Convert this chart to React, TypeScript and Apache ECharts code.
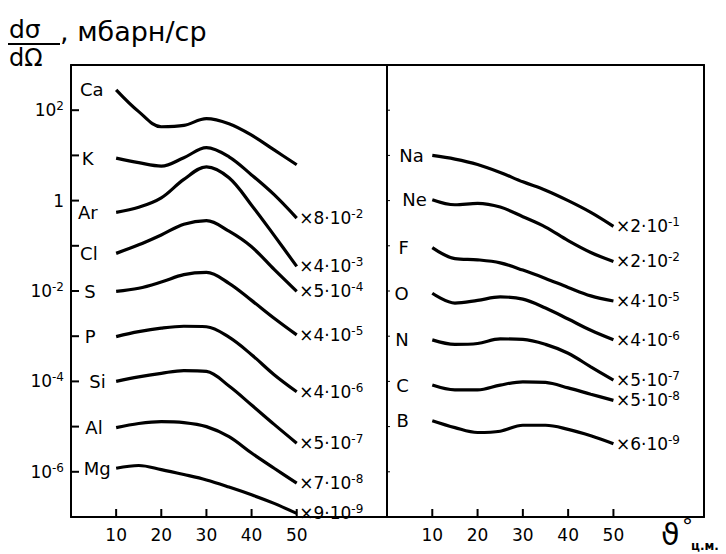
import React, { useEffect, useRef } from "react";
import * as echarts from "echarts";

// scattering angle, degrees (c.m.)
const THETA = [10, 15, 20, 25, 30, 35, 40, 45, 50];

// left panel (plotted values, mb/sr, already multiplied by the factor)
const CA = [282, 93, 43, 46, 65, 50, 28, 13.2, 6.2];
const K = [8.7, 6.9, 5.8, 8.9, 14.8, 9.3, 3.7, 1.35, 0.41];
const AR = [0.55, 0.71, 1.15, 2.95, 5.6, 3.2, 0.79, 0.17, 0.035];
const CL = [0.068, 0.105, 0.174, 0.3, 0.36, 0.21, 0.095, 0.03, 0.0098];
const S = [0.0098, 0.0115, 0.0158, 0.023, 0.0257, 0.0148, 0.0062, 0.0025, 0.00107];
const P = [9.8e-4, 1.26e-3, 1.51e-3, 1.66e-3, 1.62e-3, 9.5e-4, 3.9e-4, 1.41e-4, 5.9e-5];
const SI = [1e-4, 1.26e-4, 1.51e-4, 1.74e-4, 1.66e-4, 7.9e-5, 3.0e-5, 1.12e-5, 4.3e-6];
const AL = [9.5e-6, 1.17e-5, 1.29e-5, 1.23e-5, 1.0e-5, 6.0e-6, 2.6e-6, 1.2e-6, 5.6e-7];
const MG = [1.2e-6, 1.38e-6, 1.12e-6, 8.7e-7, 6.6e-7, 4.6e-7, 3.1e-7, 2.0e-7, 1.2e-7];

// right panel
const NA = [10, 8.3, 6.3, 4.2, 2.6, 1.7, 1.0, 0.55, 0.27];
const NE = [1.05, 0.81, 0.87, 0.72, 0.44, 0.26, 0.13, 0.071, 0.045];
const F = [0.091, 0.052, 0.049, 0.042, 0.029, 0.019, 0.012, 0.0078, 0.006];
const O = [8.9e-3, 5.4e-3, 6.2e-3, 7.4e-3, 6.6e-3, 4.2e-3, 2.4e-3, 1.35e-3, 8.3e-4];
const N = [8.3e-4, 6.6e-4, 6.9e-4, 8.7e-4, 8.5e-4, 6.6e-4, 4.2e-4, 2.1e-4, 1.07e-4];
const C = [8.3e-5, 6.5e-5, 6.5e-5, 8.3e-5, 9.8e-5, 9.5e-5, 7.2e-5, 5.2e-5, 3.8e-5];
const B = [1.35e-5, 9.5e-6, 7.4e-6, 7.9e-6, 1.07e-5, 1.07e-5, 8.7e-6, 6.3e-6, 4.2e-6];

// element names and scale factors ([mantissa, exponent])
const LEFT_NAMES = ["Ca", "K", "Ar", "Cl", "S", "P", "Si", "Al", "Mg"];
const LEFT_VALUES = [CA, K, AR, CL, S, P, SI, AL, MG];
const LEFT_FACTORS: (string[] | null)[] = [
  null, ["8", "-2"], ["4", "-3"], ["5", "-4"], ["4", "-5"], ["4", "-6"], ["5", "-7"], ["7", "-8"], ["9", "-9"],
];
const RIGHT_NAMES = ["Na", "Ne", "F", "O", "N", "C", "B"];
const RIGHT_VALUES = [NA, NE, F, O, N, C, B];
const RIGHT_FACTORS: (string[] | null)[] = [
  ["2", "-1"], ["2", "-2"], ["4", "-5"], ["4", "-6"], ["5", "-7"], ["5", "-8"], ["6", "-9"],
];

const X_TICKS = [10, 20, 30, 40, 50];
const Y_TICKS = [1e-6, 1e-5, 1e-4, 1e-3, 1e-2, 1e-1, 1, 10, 100];
const Y_LABELS = [1e-6, 1e-4, 1e-2, 1, 100];
const X_MIN = 0;
const X_MAX = 70;
const Y_MIN = 1e-7;
const Y_MAX = 1e3;

// label gaps (layout only)
const LEFT_GAPS = [12, 22, 18, 18, 20, 20, 10, 13, 5];
const RIGHT_GAPS = [8, 5, 23, 23, 23, 23, 23];

const FONT = "DejaVu Sans";
const BLACK = "#000";

function makeSeries(name: string, values: number[], grid: number, factor: string[] | null, gap: number) {
  const last = values.length - 1;
  const data = THETA.map((t, i) => {
    const item: any = { value: [t, values[i]] };
    if (i === 0) {
      item.label = {
        show: true, position: "left", distance: gap, formatter: name,
        color: BLACK, fontSize: 18, fontFamily: FONT,
      };
    } else if (i === last && factor) {
      item.label = {
        show: true, position: "right", distance: 2,
        formatter: `×${factor[0]}·10{s|${factor[1]}}`,
        color: BLACK, fontSize: 17, fontFamily: FONT,
        rich: { s: { fontSize: 12, fontFamily: FONT, color: BLACK, verticalAlign: "top", padding: [0, 0, 8, 0] } },
      };
    }
    return item;
  });
  return {
    type: "line", name, xAxisIndex: grid * 2, yAxisIndex: grid * 2, data,
    smooth: 0.35, showSymbol: true, symbol: "circle", symbolSize: 1,
    itemStyle: { color: "rgba(0,0,0,0)" },
    lineStyle: { color: BLACK, width: 3.2 },
    label: { show: false },
    emphasis: { disabled: true },
    silent: true,
  };
}

function yFormatter(v: number) {
  const e = Math.round(Math.log10(v));
  if (e === 0) return "1";
  return `10{s|${e}}`;
}

export default function App() {
  const ref = useRef<HTMLDivElement>(null);
  useEffect(() => {
    const chart = echarts.init(ref.current!, null, { renderer: "svg" });
    const xBottom = (gridIndex: number) => ({
      type: "value", gridIndex, min: X_MIN, max: X_MAX,
      axisLine: { show: true, onZero: false, lineStyle: { color: BLACK, width: 2 } },
      axisTick: { show: false },
      axisLabel: { show: true, customValues: X_TICKS, color: BLACK, fontSize: 17, fontFamily: FONT, margin: 9 },
      splitLine: { show: false },
    });
    const xTop = (gridIndex: number) => ({
      type: "value", gridIndex, min: X_MIN, max: X_MAX, position: "top",
      axisLine: { show: true, onZero: false, lineStyle: { color: BLACK, width: 2 } },
      axisTick: { show: false }, axisLabel: { show: false }, splitLine: { show: false },
    });
    const yLeft = (gridIndex: number, labels: boolean) => ({
      type: "log", logBase: 10, gridIndex, min: Y_MIN, max: Y_MAX,
      axisLine: { show: true, onZero: false, lineStyle: { color: BLACK, width: 2 } },
      axisTick: { show: false },
      axisLabel: labels
        ? {
            show: true, customValues: Y_LABELS, formatter: yFormatter, color: BLACK,
            fontSize: 17, fontFamily: FONT, margin: 7,
            rich: { s: { fontSize: 12, fontFamily: FONT, color: BLACK, verticalAlign: "top", padding: [0, 0, 8, 0] } },
          }
        : { show: false },
      splitLine: { show: false },
    });
    const yRight = (gridIndex: number) => ({
      type: "log", logBase: 10, gridIndex, min: Y_MIN, max: Y_MAX, position: "right",
      axisLine: { show: true, onZero: false, lineStyle: { color: BLACK, width: 2 } },
      axisTick: { show: false }, axisLabel: { show: false }, splitLine: { show: false },
    });
    const titleGraphics: any[] = [
      { type: "text", left: 9, top: 17, style: { text: "dσ", fontSize: 25, fontFamily: FONT, fill: BLACK } },
      { type: "line", shape: { x1: 8, y1: 44, x2: 60, y2: 44 }, style: { stroke: BLACK, lineWidth: 2 } },
      { type: "text", left: 9, top: 46, style: { text: "dΩ", fontSize: 24, fontFamily: FONT, fill: BLACK } },
      { type: "text", left: 60, top: 18, style: { text: ", мбарн/ср", fontSize: 27, fontFamily: FONT, fill: BLACK } },
      { type: "text", left: 661, top: 519, style: { text: "ϑ", fontSize: 30, fontFamily: FONT, fill: BLACK } },
      { type: "text", left: 682, top: 515, style: { text: "°", fontSize: 22, fontFamily: FONT, fill: BLACK } },
      { type: "text", left: 691, top: 540, style: { text: "ц.м.", fontSize: 12, fontWeight: "bold", fontFamily: FONT, fill: BLACK } },
    ];
    const option: any = {
      animation: false,
      grid: [
        { left: 71, top: 65, width: 316, height: 452, show: false },
        { left: 387, top: 65, width: 317, height: 452, show: false },
      ],
      xAxis: [xBottom(0), xTop(0), xBottom(1), xTop(1)],
      yAxis: [yLeft(0, true), yRight(0), yLeft(1, false), yRight(1)],
      series: [
        ...LEFT_NAMES.map((n, i) => makeSeries(n, LEFT_VALUES[i], 0, LEFT_FACTORS[i], LEFT_GAPS[i])),
        ...RIGHT_NAMES.map((n, i) => makeSeries(n, RIGHT_VALUES[i], 1, RIGHT_FACTORS[i], RIGHT_GAPS[i])),
      ],
    };
    chart.setOption(option);

    // inward tick marks, positioned through the axes' own scales
    const tickGraphics: any[] = [];
    const panels = [
      { series: 0, len: 8, width: 2 },
      { series: LEFT_NAMES.length, len: 3, width: 1 },
    ];
    panels.forEach((pn, gi) => {
      X_TICKS.forEach((v) => {
        const p = chart.convertToPixel({ seriesIndex: pn.series }, [v, Y_MIN]) as any;
        if (p && isFinite(p[0]) && isFinite(p[1])) {
          tickGraphics.push({
            type: "line", z: 100,
            shape: { x1: p[0], y1: p[1], x2: p[0], y2: p[1] - 8 },
            style: { stroke: BLACK, lineWidth: 2 },
          });
        }
      });
      Y_TICKS.forEach((v) => {
        const p = chart.convertToPixel({ seriesIndex: pn.series }, [X_MIN, v]) as any;
        if (p && isFinite(p[0]) && isFinite(p[1])) {
          tickGraphics.push({
            type: "line", z: 100,
            shape: { x1: p[0], y1: p[1], x2: p[0] + (gi === 0 ? 8 : pn.len), y2: p[1] },
            style: { stroke: BLACK, lineWidth: pn.width },
          });
        }
      });
    });
    chart.setOption({ graphic: [...titleGraphics, ...tickGraphics] });
    return () => chart.dispose();
  }, []);
  return <div ref={ref} style={{ position: "fixed", left: 0, top: 0, width: 726, height: 554, background: "#fff" }} />;
}
